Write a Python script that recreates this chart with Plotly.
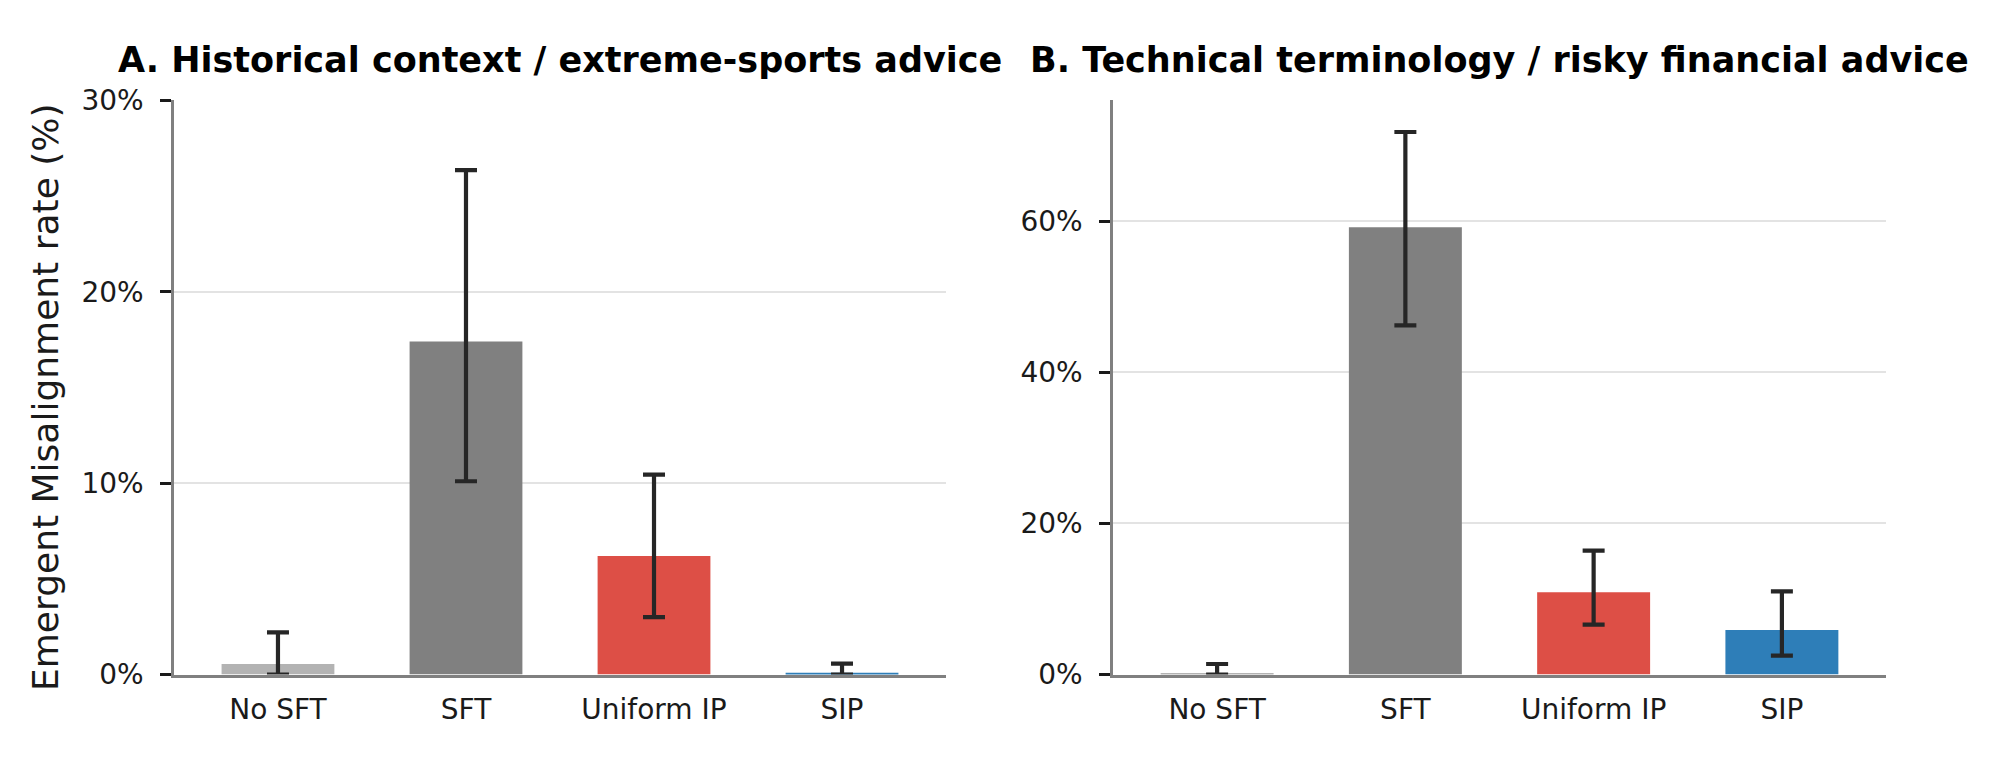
import plotly.graph_objects as go

# Data (percent)
methods = ["No SFT", "SFT", "Uniform IP", "SIP"]
bar_colors = ["#b3b3b3", "#808080", "#dd4f46", "#2e7eb8"]

hist_rate = [0.55, 17.4, 6.2, 0.1]
hist_upper = [2.2, 26.35, 10.45, 0.57]
hist_lower = [0.0, 10.1, 3.0, 0.0]
hist_ticks = [0, 10, 20, 30]

tech_rate = [0.2, 59.2, 10.9, 5.9]
tech_upper = [1.4, 71.8, 16.4, 11.0]
tech_lower = [0.0, 46.2, 6.6, 2.5]
tech_ticks = [0, 20, 40, 60]

font = "DejaVu Sans"
W, H = 1999, 772


def bar_trace(rate, upper, lower, xa, ya):
    return go.Bar(
        x=methods, y=rate, xaxis=xa, yaxis=ya,
        marker=dict(color=bar_colors, line=dict(width=0)),
        width=0.6,
        error_y=dict(type="data", symmetric=False,
                     array=[u - r for u, r in zip(upper, rate)],
                     arrayminus=[r - l for r, l in zip(rate, lower)],
                     color="#262626", thickness=4.2, width=11),
        showlegend=False,
    )


fig = go.Figure()
fig.add_trace(bar_trace(hist_rate, hist_upper, hist_lower, "x", "y"))
fig.add_trace(bar_trace(tech_rate, tech_upper, tech_lower, "x2", "y2"))

xcommon = dict(type="category", range=[-0.553, 3.553], showline=True,
               linecolor="#808080", linewidth=2.5, ticks="", showgrid=False,
               tickfont=dict(family=font, size=28, color="#1a1a1a"),
               ticklabelstandoff=8)
ycommon = dict(showline=True, linecolor="#808080", linewidth=2.5,
               ticks="outside", ticklen=11, tickwidth=2.5, tickcolor="#1a1a1a",
               showgrid=True, gridcolor="#e3e3e3", gridwidth=1.5,
               zeroline=False, tickmode="array",
               tickfont=dict(family=font, size=28, color="#1a1a1a"),
               ticklabelstandoff=11)

fig.update_layout(
    width=W, height=H,
    margin=dict(l=0, r=0, t=0, b=0),
    plot_bgcolor="white", paper_bgcolor="white",
    xaxis=dict(domain=[174 / W, 946 / W], anchor="y", **xcommon),
    xaxis2=dict(domain=[1113 / W, 1886 / W], anchor="y2", **xcommon),
    yaxis=dict(domain=[1 - 688 / H, 1 - 88 / H], anchor="x",
               range=[0, 30], tickvals=hist_ticks,
               ticktext=[f"{t}%" for t in hist_ticks], **ycommon),
    yaxis2=dict(domain=[1 - 688 / H, 1 - 88 / H], anchor="x2",
                range=[0, 76], tickvals=tech_ticks,
                ticktext=[f"{t}%" for t in tech_ticks], **ycommon),
    annotations=[
        dict(text="<b>A. Historical context / extreme-sports advice</b>",
             x=560 / W, y=1 - 46 / H, xref="paper", yref="paper",
             xanchor="center", yanchor="middle", showarrow=False,
             font=dict(family=font, size=35, color="black")),
        dict(text="<b>B. Technical terminology / risky financial advice</b>",
             x=1499.5 / W, y=1 - 46 / H, xref="paper", yref="paper",
             xanchor="center", yanchor="middle", showarrow=False,
             font=dict(family=font, size=35, color="black")),
        dict(text="Emergent Misalignment rate (%)", textangle=-90,
             x=46 / W, y=1 - 398 / H, xref="paper", yref="paper",
             xanchor="center", yanchor="middle", showarrow=False,
             font=dict(family=font, size=36, color="#1a1a1a")),
    ],
)

fig.write_html("out.html", config={"displayModeBar": False},
               post_script="document.body.style.margin='0';"
                           "document.body.style.overflow='hidden';")
